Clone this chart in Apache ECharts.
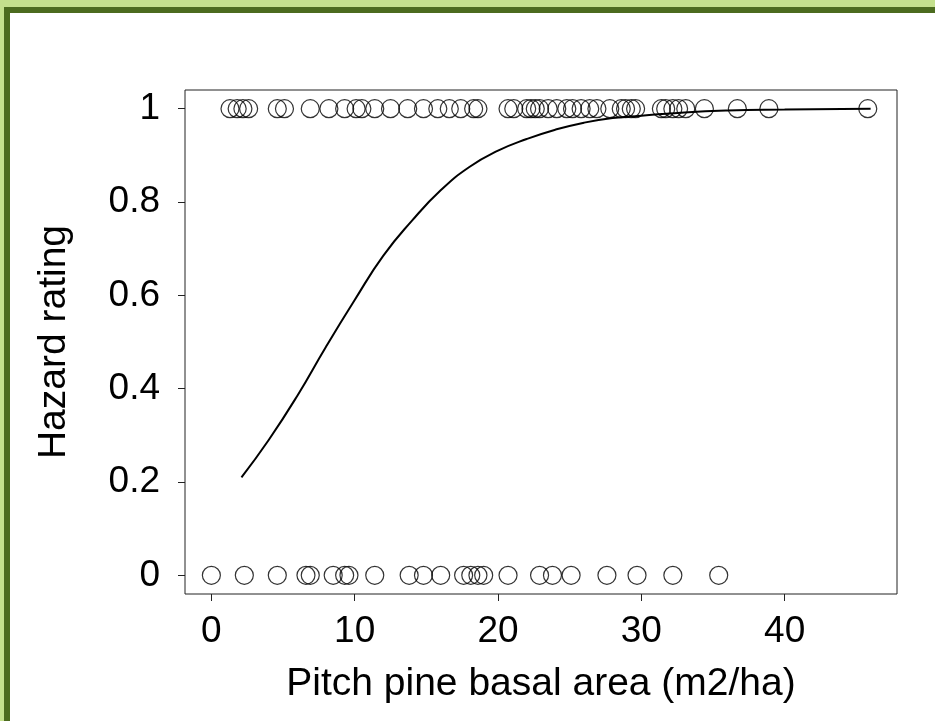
<!DOCTYPE html>
<html>
<head>
    <title>Hazard rating</title>
    <script src="https://cdn.jsdelivr.net/npm/echarts@6.0.0/dist/echarts.min.js"></script>
    <style>
        body { margin: 0; }
        #page { position: relative; width: 935px; height: 721px; background: #c4e08d; overflow: hidden; }
        #panel { position: absolute; left: 4px; top: 7px; width: 960px; height: 760px;
                 background: #fff; border-left: 6px solid #4c6b1f; border-top: 6px solid #4c6b1f; }
        #chart { position: absolute; left: 0; top: 0; width: 935px; height: 721px; }
    </style>
</head>
<body>
<div id="page">
    <div id="panel"></div>
    <div id="chart"></div>
</div>

<script>
    // observed basal area for stands rated 1 (hazard) and 0 (no hazard)
    var hazardX = [1.3, 1.8, 2.2, 2.6, 4.6, 5.1, 6.9, 8.2, 9.3, 10.1, 10.5, 11.4, 12.5, 13.7,
        14.8, 15.8, 16.6, 17.4, 18.3, 18.6, 20.7, 21.1, 22.0, 22.3, 22.6, 22.9, 23.5, 24.1,
        24.8, 25.2, 25.8, 26.4, 26.9, 27.8, 28.6, 28.9, 29.3, 29.6, 31.4, 31.7, 32.2, 32.6,
        33.1, 34.4, 36.7, 38.9, 45.8];
    var noHazardX = [0, 2.3, 4.6, 6.6, 6.9, 8.5, 9.3, 9.6, 11.4, 13.8, 14.8, 16.0, 17.6, 18.1,
        18.6, 19.0, 20.7, 22.9, 23.8, 25.1, 27.6, 29.7, 32.2, 35.4];

    // fitted curve
    var curveX = [2.1, 4, 6, 8, 10, 12, 14, 16, 18, 20, 22, 24, 26, 28, 30, 33, 36, 40, 46];
    var curveY = [0.21, 0.29, 0.385, 0.49, 0.59, 0.685, 0.76, 0.825, 0.875, 0.91, 0.935, 0.955,
        0.97, 0.98, 0.985, 0.992, 0.996, 0.998, 1.0];

    var xTicks = [0, 10, 20, 30, 40];
    var yTicks = [0, 0.2, 0.4, 0.6, 0.8, 1];
    var xTitle = 'Pitch pine basal area (m2/ha)';
    var yTitle = 'Hazard rating';

    var chart = echarts.init(document.getElementById('chart'));
    var font = 'Liberation Sans, Arial, sans-serif';

    var pts = [];
    hazardX.forEach(function (x) { pts.push([x, 1]); });
    noHazardX.forEach(function (x) { pts.push([x, 0]); });

    var line = curveX.map(function (x, i) { return [x, curveY[i]]; });

    var option = {
        animation: false,
        backgroundColor: 'transparent',
        textStyle: { fontFamily: font, color: '#000' },
        grid: {
            left: 185, right: 38, top: 90, bottom: 127,
            containLabel: false, outerBoundsMode: 'none',
            show: true, borderColor: '#222', borderWidth: 1, backgroundColor: 'transparent'
        },
        xAxis: {
            type: 'value', min: -1.84, max: 47.84,
            axisLine: { show: false, onZero: false },
            splitLine: { show: false },
            axisTick: { show: true, length: 7, customValues: xTicks, lineStyle: { color: '#222' } },
            axisLabel: { customValues: xTicks, fontSize: 37, color: '#000', margin: 6, fontFamily: font },
            name: xTitle, nameLocation: 'middle', nameGap: 57, nameMoveOverlap: false,
            nameTextStyle: { fontSize: 39, color: '#000', fontFamily: font }
        },
        yAxis: {
            type: 'value', min: -0.04, max: 1.04,
            axisLine: { show: false, onZero: false },
            splitLine: { show: false },
            axisTick: { show: true, length: 7, customValues: yTicks, lineStyle: { color: '#222' } },
            axisLabel: {
                customValues: yTicks, fontSize: 37, color: '#000', margin: 25, fontFamily: font,
                formatter: function (v) { return String(+v.toFixed(1)); }
            },
            name: yTitle, nameLocation: 'middle', nameGap: 97,
            nameTextStyle: { fontSize: 39, color: '#000', fontFamily: font }
        },
        series: [{
            type: 'scatter',
            data: pts,
            symbol: 'circle',
            symbolSize: 18,
            itemStyle: { color: 'rgba(0,0,0,0)', borderColor: '#000', borderWidth: 1.2 },
            silent: true,
            z: 3
        }, {
            type: 'line',
            data: line,
            smooth: true,
            showSymbol: false,
            lineStyle: { color: '#000', width: 2 },
            silent: true,
            z: 2
        }]
    };

    chart.setOption(option);
</script>
</body>
</html>
